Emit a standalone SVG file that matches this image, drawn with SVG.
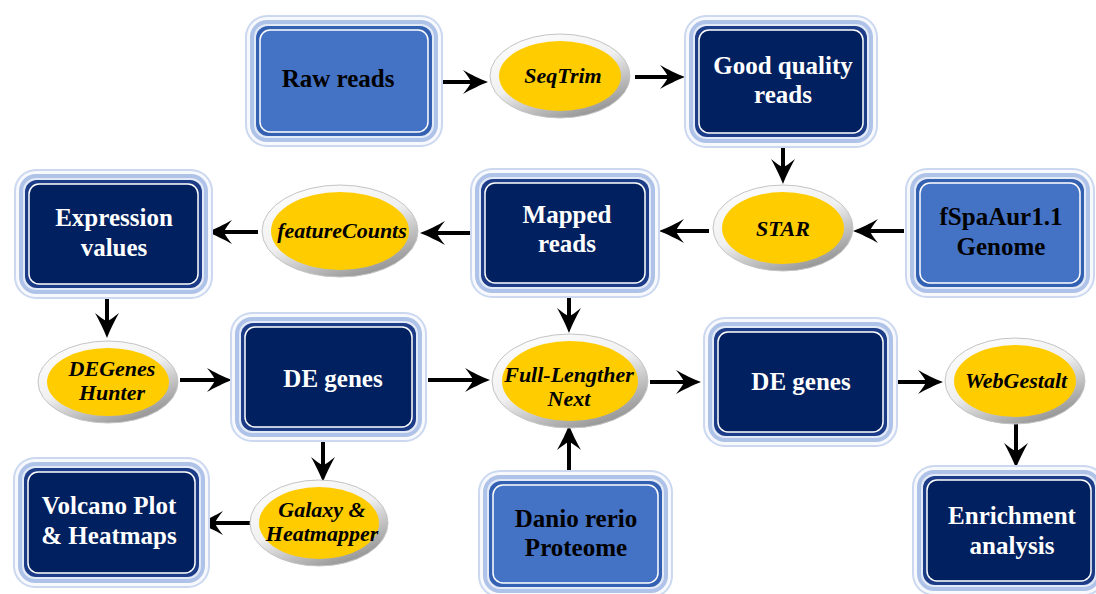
<svg xmlns="http://www.w3.org/2000/svg" width="1096" height="594" viewBox="0 0 1096 594">
<style>
.l0{fill:#cbd8f0}
.l1{fill:#f7f9fd}
.l2{fill:#afc2e8}
.l3{fill:#e2e9f7}
.dark .l4{fill:#1c3c88}
.dark .l5{fill:#002060;stroke:#ffffff;stroke-width:1.5}
.light .l4{fill:#3460b2}
.light .l5{fill:#4472c4;stroke:#ffffff;stroke-width:1.5}
.ring{fill:url(#ringGrad);stroke:#c4c4c4;stroke-width:1}
.yolk{fill:#ffcc00}
text{font-family:"Liberation Serif","Times New Roman",serif;font-weight:bold;text-anchor:middle}
.dark text{fill:#ffffff;font-size:25px}
.light text{fill:#000000;font-size:25px}
.ell text{fill:#000000;font-size:22px;font-style:italic}
.conn line{stroke:#000000;stroke-width:4;marker-end:url(#arr)}
</style>
<defs>
<linearGradient id="ringGrad" x1="0" y1="0" x2="0.6" y2="1">
<stop offset="0" stop-color="#ffffff"/>
<stop offset="0.55" stop-color="#f0f0f0"/>
<stop offset="1" stop-color="#9a9a9a"/>
</linearGradient>
<marker id="arr" markerUnits="userSpaceOnUse" markerWidth="26" markerHeight="26" viewBox="0 0 26 26" refX="12" refY="13" orient="auto">
<path d="M26,13 C18,10 8,5 1,1 C5,6 8,10 9,13 C8,16 5,20 1,25 C8,21 18,16 26,13 Z" fill="#000000"/>
</marker>
</defs>
<rect width="1096" height="594" fill="#ffffff"/>

<g class="conn" id="connectors">
<line x1="433" y1="82" x2="474" y2="82"/>
<line x1="635" y1="77" x2="671" y2="77"/>
<line x1="783" y1="140" x2="783" y2="170"/>
<line x1="904" y1="231" x2="867" y2="231"/>
<line x1="709" y1="231" x2="673" y2="231"/>
<line x1="472" y1="233" x2="434" y2="233"/>
<line x1="258" y1="232" x2="221" y2="232"/>
<line x1="107" y1="292" x2="107" y2="324"/>
<line x1="180" y1="380" x2="218" y2="380"/>
<line x1="428" y1="380" x2="476" y2="380"/>
<line x1="569" y1="290" x2="569" y2="319"/>
<line x1="569" y1="473" x2="569" y2="439"/>
<line x1="650" y1="382" x2="687" y2="382"/>
<line x1="890" y1="382" x2="929" y2="382"/>
<line x1="1016" y1="422" x2="1016" y2="454"/>
<line x1="323" y1="435" x2="323" y2="468"/>
<line x1="250" y1="523" x2="212" y2="523"/>
</g>

<g id="raw-reads" class="light">
<rect class="l0" x="245" y="15" width="198" height="132" rx="22"/>
<rect class="l1" x="247" y="17" width="194" height="128" rx="20"/>
<rect class="l2" x="250" y="20" width="188" height="122" rx="17"/>
<rect class="l3" x="254" y="24" width="180" height="114" rx="13"/>
<rect class="l4" x="256" y="26" width="176" height="110" rx="12"/>
<rect class="l5" x="260" y="30" width="168" height="102" rx="10"/>
<text x="338" y="87">Raw reads</text>
</g>

<g id="good-quality-reads" class="dark">
<rect class="l0" x="684" y="15" width="194" height="133" rx="22"/>
<rect class="l1" x="686" y="17" width="190" height="129" rx="20"/>
<rect class="l2" x="689" y="20" width="184" height="123" rx="17"/>
<rect class="l3" x="693" y="24" width="176" height="115" rx="13"/>
<rect class="l4" x="695" y="26" width="172" height="111" rx="12"/>
<rect class="l5" x="699" y="30" width="164" height="103" rx="10"/>
<text x="783" y="74">Good quality</text>
<text x="783" y="103">reads</text>
</g>

<g id="expression-values" class="dark">
<rect class="l0" x="14" y="169" width="199" height="130" rx="22"/>
<rect class="l1" x="16" y="171" width="195" height="126" rx="20"/>
<rect class="l2" x="19" y="174" width="189" height="120" rx="17"/>
<rect class="l3" x="23" y="178" width="181" height="112" rx="13"/>
<rect class="l4" x="25" y="180" width="177" height="108" rx="12"/>
<rect class="l5" x="29" y="184" width="169" height="100" rx="10"/>
<text x="114" y="226">Expression</text>
<text x="114" y="256">values</text>
</g>

<g id="mapped-reads" class="dark">
<rect class="l0" x="470" y="168" width="190" height="130" rx="22"/>
<rect class="l1" x="472" y="170" width="186" height="126" rx="20"/>
<rect class="l2" x="475" y="173" width="180" height="120" rx="17"/>
<rect class="l3" x="479" y="177" width="172" height="112" rx="13"/>
<rect class="l4" x="481" y="179" width="168" height="108" rx="12"/>
<rect class="l5" x="485" y="183" width="160" height="100" rx="10"/>
<text x="567" y="223">Mapped</text>
<text x="567" y="252">reads</text>
</g>

<g id="fspaaur-genome" class="light">
<rect class="l0" x="905" y="168" width="190" height="130" rx="22"/>
<rect class="l1" x="907" y="170" width="186" height="126" rx="20"/>
<rect class="l2" x="910" y="173" width="180" height="120" rx="17"/>
<rect class="l3" x="914" y="177" width="172" height="112" rx="13"/>
<rect class="l4" x="916" y="179" width="168" height="108" rx="12"/>
<rect class="l5" x="920" y="183" width="160" height="100" rx="10"/>
<text x="1001" y="225">fSpaAur1.1</text>
<text x="1001" y="255">Genome</text>
</g>

<g id="de-genes-1" class="dark">
<rect class="l0" x="230" y="312" width="197" height="130" rx="22"/>
<rect class="l1" x="232" y="314" width="193" height="126" rx="20"/>
<rect class="l2" x="235" y="317" width="187" height="120" rx="17"/>
<rect class="l3" x="239" y="321" width="179" height="112" rx="13"/>
<rect class="l4" x="241" y="323" width="175" height="108" rx="12"/>
<rect class="l5" x="245" y="327" width="167" height="100" rx="10"/>
<text x="333" y="387">DE genes</text>
</g>

<g id="de-genes-2" class="dark">
<rect class="l0" x="703" y="317" width="195" height="130" rx="22"/>
<rect class="l1" x="705" y="319" width="191" height="126" rx="20"/>
<rect class="l2" x="708" y="322" width="185" height="120" rx="17"/>
<rect class="l3" x="712" y="326" width="177" height="112" rx="13"/>
<rect class="l4" x="714" y="328" width="173" height="108" rx="12"/>
<rect class="l5" x="718" y="332" width="165" height="100" rx="10"/>
<text x="801" y="390">DE genes</text>
</g>

<g id="volcano-heatmaps" class="dark">
<rect class="l0" x="13" y="457" width="197" height="131" rx="22"/>
<rect class="l1" x="15" y="459" width="193" height="127" rx="20"/>
<rect class="l2" x="18" y="462" width="187" height="121" rx="17"/>
<rect class="l3" x="22" y="466" width="179" height="113" rx="13"/>
<rect class="l4" x="24" y="468" width="175" height="109" rx="12"/>
<rect class="l5" x="28" y="472" width="167" height="101" rx="10"/>
<text x="109" y="514">Volcano Plot</text>
<text x="109" y="544">&amp; Heatmaps</text>
</g>

<g id="danio-rerio-proteome" class="light">
<rect class="l0" x="478" y="470" width="195" height="128" rx="22"/>
<rect class="l1" x="480" y="472" width="191" height="124" rx="20"/>
<rect class="l2" x="483" y="475" width="185" height="118" rx="17"/>
<rect class="l3" x="487" y="479" width="177" height="110" rx="13"/>
<rect class="l4" x="489" y="481" width="173" height="106" rx="12"/>
<rect class="l5" x="493" y="485" width="165" height="98" rx="10"/>
<text x="576" y="527">Danio rerio</text>
<text x="576" y="556">Proteome</text>
</g>

<g id="enrichment-analysis" class="dark">
<rect class="l0" x="912" y="465" width="194" height="131" rx="22"/>
<rect class="l1" x="914" y="467" width="190" height="127" rx="20"/>
<rect class="l2" x="917" y="470" width="184" height="121" rx="17"/>
<rect class="l3" x="921" y="474" width="176" height="113" rx="13"/>
<rect class="l4" x="923" y="476" width="172" height="109" rx="12"/>
<rect class="l5" x="927" y="480" width="164" height="101" rx="10"/>
<text x="1012" y="524">Enrichment</text>
<text x="1012" y="554">analysis</text>
</g>

<g id="seqtrim" class="ell">
<ellipse class="ring" cx="560" cy="76" rx="70" ry="42"/>
<ellipse class="yolk" cx="560" cy="76" rx="61" ry="35"/>
<text x="563" y="83">SeqTrim</text>
</g>

<g id="star" class="ell">
<ellipse class="ring" cx="783" cy="228" rx="70" ry="43"/>
<ellipse class="yolk" cx="783" cy="228" rx="61" ry="36"/>
<text x="783" y="236">STAR</text>
</g>

<g id="featurecounts" class="ell">
<ellipse class="ring" cx="340" cy="231" rx="78" ry="46"/>
<ellipse class="yolk" cx="340" cy="231" rx="69" ry="39"/>
<text x="342" y="238">featureCounts</text>
</g>

<g id="degenes-hunter" class="ell">
<ellipse class="ring" cx="108" cy="382" rx="70" ry="41"/>
<ellipse class="yolk" cx="108" cy="382" rx="61" ry="34"/>
<text x="112" y="376">DEGenes</text>
<text x="112" y="400">Hunter</text>
</g>

<g id="full-lengther-next" class="ell">
<ellipse class="ring" cx="570" cy="381" rx="78" ry="47"/>
<ellipse class="yolk" cx="570" cy="381" rx="68" ry="40"/>
<text x="569" y="382">Full-Lengther</text>
<text x="569" y="406">Next</text>
</g>

<g id="webgestalt" class="ell">
<ellipse class="ring" cx="1015" cy="381" rx="70" ry="43"/>
<ellipse class="yolk" cx="1015" cy="381" rx="61" ry="36"/>
<text x="1016" y="388">WebGestalt</text>
</g>

<g id="galaxy-heatmapper" class="ell">
<ellipse class="ring" cx="319" cy="523" rx="69" ry="43"/>
<ellipse class="yolk" cx="319" cy="523" rx="60" ry="36"/>
<text x="322" y="517">Galaxy &amp;</text>
<text x="322" y="541">Heatmapper</text>
</g>
</svg>
